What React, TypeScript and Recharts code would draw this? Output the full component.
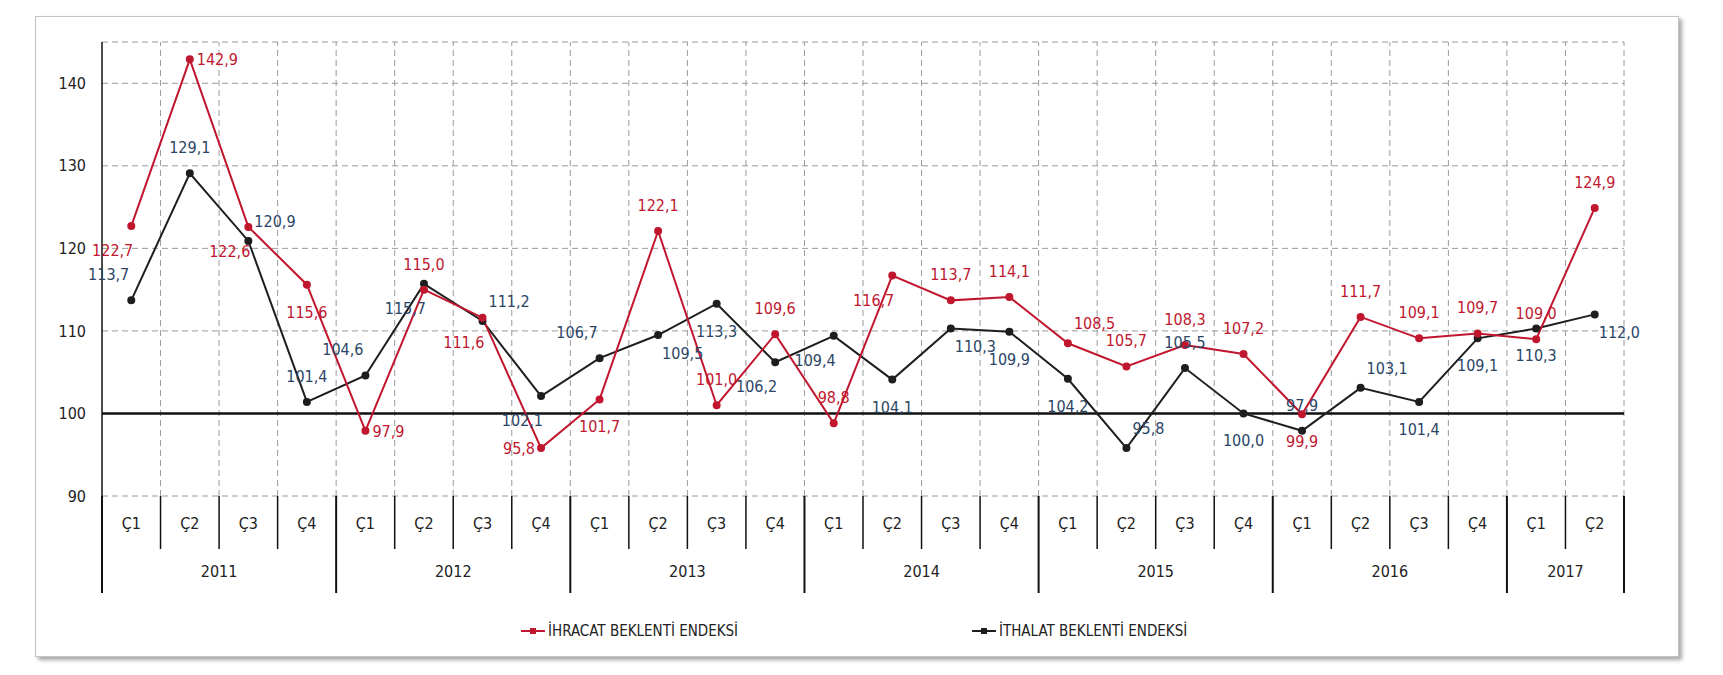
import React from "react";
import {
  CartesianGrid,
  Line,
  LineChart,
  ReferenceLine,
  XAxis,
  YAxis,
} from "recharts";

const quarters = [
  "Ç1", "Ç2", "Ç3", "Ç4",
  "Ç1", "Ç2", "Ç3", "Ç4",
  "Ç1", "Ç2", "Ç3", "Ç4",
  "Ç1", "Ç2", "Ç3", "Ç4",
  "Ç1", "Ç2", "Ç3", "Ç4",
  "Ç1", "Ç2", "Ç3", "Ç4",
  "Ç1", "Ç2",
];
const years = ["2011", "2012", "2013", "2014", "2015", "2016", "2017"];

// İhracat beklenti endeksi
const ihracat = [
  122.7, 142.9, 122.6, 115.6,
  97.9, 115.0, 111.6, 95.8,
  101.7, 122.1, 101.0, 109.6,
  98.8, 116.7, 113.7, 114.1,
  108.5, 105.7, 108.3, 107.2,
  99.9, 111.7, 109.1, 109.7,
  109.0, 124.9,
];

// İthalat beklenti endeksi
const ithalat = [
  113.7, 129.1, 120.9, 101.4,
  104.6, 115.7, 111.2, 102.1,
  106.7, 109.5, 113.3, 106.2,
  109.4, 104.1, 110.3, 109.9,
  104.2, 95.8, 105.5, 100.0,
  97.9, 103.1, 101.4, 109.1,
  110.3, 112.0,
];

const yTicks = [90, 100, 110, 120, 130, 140];

// where each value label sits relative to its point
const ihrLabelPos = [
  "bl", "r", "bl", "b", "r", "t", "bl", "l", "b", "t", "t", "t", "t",
  "bl", "t", "t", "tr", "t", "t", "t", "b", "t", "t", "t", "t", "t",
];
const ithLabelPos = [
  "tl", "t", "tr", "t", "tl", "bl", "tr", "bl", "tl", "br", "b", "bl", "bl",
  "b", "br", "b", "b", "tr", "t", "b", "t", "tr", "b", "b", "b", "br",
];

const FONT = "'Liberation Sans Narrow', 'DejaVu Sans Condensed', 'Roboto', sans-serif";
const RED = "#c0172e";
const DARK = "#1e1e1e";
const BLUE_TXT = "#2b4565";

const rows = quarters.map((q, i) => ({
  x: i + 0.5,
  q,
  ihr: ihracat[i],
  ith: ithalat[i],
}));

const yearStarts = quarters
  .map((q, i) => (q === "Ç1" ? i : -1))
  .filter((i) => i >= 0);
const yearBounds = [...yearStarts, quarters.length];
const yearCenters = yearStarts.map((s, k) => (s + yearBounds[k + 1]) / 2);

const bottomTicks: number[] = [];
for (let i = 0; i <= quarters.length; i++) {
  bottomTicks.push(i);
  if (i < quarters.length) bottomTicks.push(i + 0.5);
}

const fmt = (v: number) => v.toFixed(1).replace(".", ",");

const offsets: Record<string, { dx: number; dy: number; anchor: string }> = {
  t: { dx: 0, dy: -20, anchor: "middle" },
  b: { dx: 0, dy: 33, anchor: "middle" },
  l: { dx: -6, dy: 6, anchor: "end" },
  r: { dx: 7, dy: 6, anchor: "start" },
  tl: { dx: -2, dy: -20, anchor: "end" },
  tr: { dx: 6, dy: -14, anchor: "start" },
  bl: { dx: 2, dy: 30, anchor: "end" },
  br: { dx: 4, dy: 24, anchor: "start" },
};

function makeLabel(pos: string[], color: string) {
  return (props: any) => {
    const { x, y, value, index } = props;
    const o = offsets[pos[index]] || offsets.t;
    return (
      <text
        x={x + o.dx}
        y={y + o.dy}
        textAnchor={o.anchor}
        fill={color}
        fontSize={16}
        fontFamily={FONT}
      >
        {fmt(Number(value))}
      </text>
    );
  };
}

function QuarterTick(props: any) {
  const { x, y, payload } = props;
  const v = payload.value;
  if (Number.isInteger(v)) {
    const isYear = yearBounds.includes(v);
    return (
      <line
        x1={x}
        x2={x}
        y1={y}
        y2={y + (isYear ? 97 : 53)}
        stroke="#111"
        strokeWidth={isYear ? 2 : 1.5}
      />
    );
  }
  return (
    <text
      x={x}
      y={y + 33}
      textAnchor="middle"
      fontSize={16}
      fontFamily={FONT}
      fill="#222"
    >
      {quarters[Math.floor(v)]}
    </text>
  );
}

function YearTick(props: any) {
  const { x, y, payload } = props;
  const k = yearCenters.indexOf(payload.value);
  return (
    <text
      x={x}
      y={y + 28}
      textAnchor="middle"
      fontSize={16}
      fontFamily={FONT}
      fill="#222"
    >
      {years[k]}
    </text>
  );
}

function LegendItem({ color, label }: { color: string; label: string }) {
  return (
    <div style={{ display: "flex", alignItems: "center" }}>
      <svg width={24} height={10}>
        <line x1={0} x2={24} y1={5} y2={5} stroke={color} strokeWidth={2} />
        <rect x={9} y={2} width={6} height={6} fill={color} />
      </svg>
      <span
        style={{
          marginLeft: 3,
          fontFamily: FONT,
          fontSize: 15,
          color: "#222",
          letterSpacing: 0,
        }}
      >
        {label}
      </span>
    </div>
  );
}

export default function App() {
  return (
    <div
      style={{
        position: "absolute",
        left: 0,
        top: 0,
        width: 1723,
        height: 675,
        background: "#ffffff",
      }}
    >
      <div
        style={{
          position: "absolute",
          left: 35,
          top: 16,
          width: 1642,
          height: 639,
          border: "1px solid #c4c4c4",
          boxShadow: "3px 3px 4px rgba(0,0,0,0.35)",
          background: "#fff",
        }}
      />
      <div style={{ position: "absolute", left: 0, top: 0 }}>
        <LineChart
          width={1723}
          height={675}
          data={rows}
          margin={{ top: 42, right: 99, bottom: 82, left: 42 }}
        >
          <CartesianGrid
            vertical={false}
            stroke="#9a9a9a"
            strokeDasharray="6 4"
          />
          <XAxis
            xAxisId="q"
            type="number"
            dataKey="x"
            domain={[0, quarters.length]}
            ticks={bottomTicks}
            interval={0}
            tick={<QuarterTick />}
            tickLine={false}
            axisLine={false}
            tickSize={0}
            tickMargin={0}
            height={53}
          />
          <XAxis
            xAxisId="y"
            type="number"
            dataKey="x"
            domain={[0, quarters.length]}
            ticks={yearCenters}
            interval={0}
            tick={<YearTick />}
            tickLine={false}
            axisLine={false}
            tickSize={0}
            tickMargin={0}
            height={44}
          />
          <YAxis
            domain={[90, 145]}
            ticks={yTicks}
            interval={0}
            width={60}
            tickSize={0}
            tickMargin={16}
            tickLine={false}
            axisLine={{ stroke: "#111", strokeWidth: 1.5 }}
            tick={{ fill: "#222", fontSize: 16, fontFamily: FONT }}
          />
          {bottomTicks
            .filter((t) => Number.isInteger(t) && t > 0)
            .map((t) => (
              <ReferenceLine
                key={t}
                xAxisId="q"
                x={t}
                stroke="#9a9a9a"
                strokeDasharray="6 4"
              />
            ))}
          <ReferenceLine xAxisId="q" y={100} stroke="#111" strokeWidth={2.5} />
          <Line
            xAxisId="q"
            dataKey="ith"
            stroke={DARK}
            strokeWidth={2}
            dot={{ r: 3, fill: DARK, stroke: DARK }}
            isAnimationActive={false}
            label={makeLabel(ithLabelPos, BLUE_TXT)}
          />
          <Line
            xAxisId="q"
            dataKey="ihr"
            stroke={RED}
            strokeWidth={2}
            dot={{ r: 3, fill: RED, stroke: RED }}
            isAnimationActive={false}
            label={makeLabel(ihrLabelPos, RED)}
          />
        </LineChart>
      </div>
      <div style={{ position: "absolute", left: 521, top: 622 }}>
        <LegendItem color={RED} label="İHRACAT BEKLENTİ ENDEKSİ" />
      </div>
      <div style={{ position: "absolute", left: 972, top: 622 }}>
        <LegendItem color={DARK} label="İTHALAT BEKLENTİ ENDEKSİ" />
      </div>
    </div>
  );
}
